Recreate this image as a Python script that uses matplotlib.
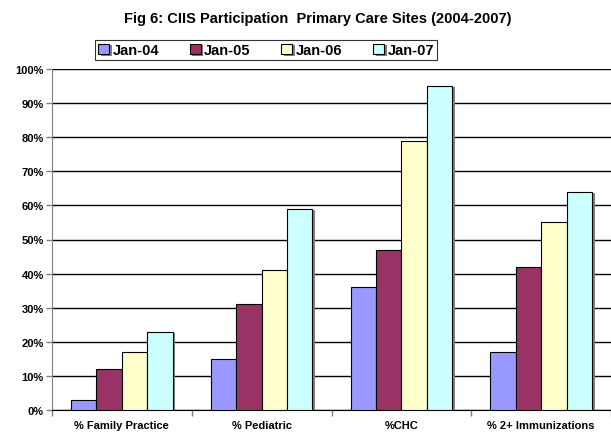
import matplotlib
matplotlib.use("Agg")
import matplotlib.pyplot as plt
import matplotlib.patheffects as pe
import numpy as np

categories = ["% Family Practice", "% Pediatric", "%CHC", "% 2+ Immunizations"]
series_names = ["Jan-04", "Jan-05", "Jan-06", "Jan-07"]
jan04 = [3, 15, 36, 17]
jan05 = [12, 31, 47, 42]
jan06 = [17, 41, 79, 55]
jan07 = [23, 59, 95, 64]
colors = ["#9999FF", "#993366", "#FFFFCC", "#CCFFFF"]
yticks = [0, 10, 20, 30, 40, 50, 60, 70, 80, 90, 100]

plt.rcParams['font.family'] = ['Liberation Sans', 'DejaVu Sans']

fig = plt.figure(figsize=(6.11, 4.35), dpi=100)
ax = fig.add_axes([52/611, 24/435, 559/611, 341/435])

data = [jan04, jan05, jan06, jan07]
n = len(series_names)
bw = 1.0 / (n + 1.5)
x = np.arange(len(categories))
for i, (vals, c, name) in enumerate(zip(data, colors, series_names)):
    pos = x + (i - (n - 1) / 2) * bw
    ax.bar(pos, vals, width=bw, color=c, edgecolor="black", linewidth=0.8,
           label=name, zorder=3,
           path_effects=[pe.SimplePatchShadow(offset=(2, -1), shadow_rgbFace="#808080", alpha=1.0), pe.Normal()])

ax.set_xlim(-0.5, len(categories) - 0.5)
ax.set_ylim(0, 100)
ax.set_yticks(yticks)
ax.set_yticklabels([f"{v}%" for v in yticks], fontsize=8, fontweight="bold")
ax.yaxis.grid(True, color="black", linewidth=1.0, zorder=0)
ax.set_axisbelow(True)

ax.set_xticks(x)
ax.set_xticklabels(categories, fontsize=8, fontweight="bold")
ax.tick_params(axis="x", which="major", length=0, pad=7)
ax.set_xticks(np.arange(len(categories) + 1) - 0.5, minor=True)
ax.tick_params(axis="x", which="minor", length=4, color="#808080", width=1)
ax.tick_params(axis="y", length=4, color="#808080", width=1, pad=2)

for s in ["top", "right"]:
    ax.spines[s].set_visible(False)
ax.spines["left"].set_color("#808080")
ax.spines["bottom"].set_color("black")

fig.text(318/611, 1 - 19/435, "Fig 6: CIIS Participation  Primary Care Sites (2004-2007)",
         ha="center", va="center", fontsize=10.5, fontweight="bold")

leg = fig.legend(loc="center", bbox_to_anchor=(266/611, 1 - 51/435), ncol=4,
                 prop={"weight": "bold", "size": 10.5}, frameon=True, fancybox=False,
                 edgecolor="black", handlelength=0.75, handleheight=0.75, handletextpad=0.25,
                 columnspacing=2.1, borderpad=0.2, borderaxespad=0)
leg.get_frame().set_linewidth(0.8)

fig.savefig("out.png", dpi=100)
